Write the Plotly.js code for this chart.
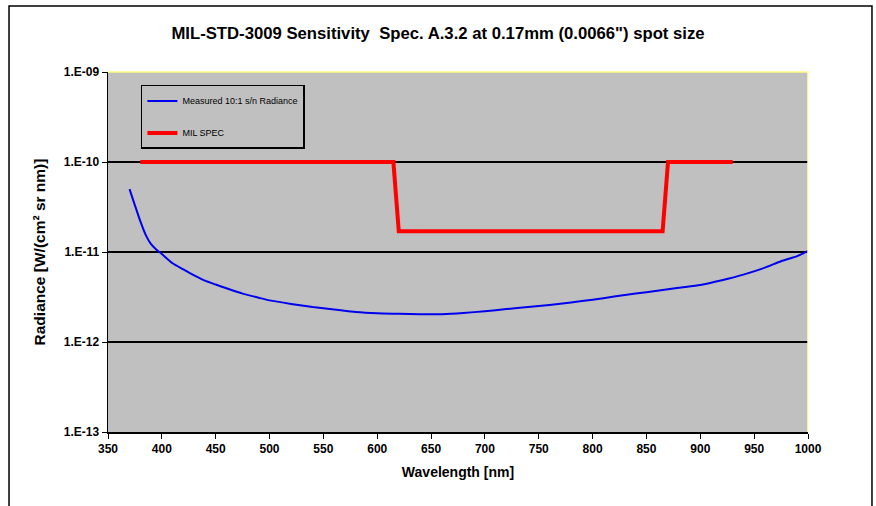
<!DOCTYPE html>
<html>
<head>
<meta charset="utf-8">
<script src="https://cdn.plot.ly/plotly-3.0.1.min.js"></script>
<style>html,body{margin:0;padding:0;background:#fff;}#chart{width:876px;height:506px;}</style>
</head>
<body>
<div id="chart"></div>
<script>
// Measured 10:1 s/n radiance
const measWl = [370,375,380,385,390,395,400,410,420,430,440,450,460,475,490,500,520,540,560,580,600,620,640,660,680,700,720,740,760,780,800,820,840,860,880,900,920,940,960,975,990,1000];
const measRad = [5.0e-11,3.3e-11,2.2e-11,1.55e-11,1.22e-11,1.06e-11,9.5e-12,7.5e-12,6.4e-12,5.5e-12,4.8e-12,4.35e-12,3.95e-12,3.45e-12,3.1e-12,2.9e-12,2.65e-12,2.45e-12,2.3e-12,2.15e-12,2.08e-12,2.06e-12,2.04e-12,2.04e-12,2.1e-12,2.2e-12,2.32e-12,2.45e-12,2.58e-12,2.75e-12,2.95e-12,3.2e-12,3.45e-12,3.7e-12,4.0e-12,4.3e-12,4.85e-12,5.6e-12,6.7e-12,7.9e-12,9.0e-12,1.03e-11];
// MIL SPEC limit
const specWl = [380,615,620,865,870,930];
const specRad = [1e-10,1e-10,1.7e-11,1.7e-11,1e-10,1e-10];
// Axis ticks
const xTicks = [350,400,450,500,550,600,650,700,750,800,850,900,950,1000];
const yTickVals = [1e-13,1e-12,1e-11,1e-10,1e-9];
const yTickText = ["1.E-13","1.E-12","1.E-11","1.E-10","1.E-09"];

const FONT = "Liberation Sans Narrow, Liberation Sans, Arial, sans-serif";

const traces = [
  {x: measWl, y: measRad, type:'scatter', mode:'lines', name:'Measured 10:1 s/n Radiance',
   line:{color:'#0000ee', width:2, shape:'spline', smoothing:0.6}, legendgroup:'a'},
  {x: specWl, y: specRad, type:'scatter', mode:'lines', name:'MIL SPEC',
   line:{color:'#ff0000', width:4}, legendgroup:'b'}
];

const layout = {
  width:876, height:506,
  margin:{l:108, r:68, t:72, b:74},
  paper_bgcolor:'#ffffff',
  plot_bgcolor:'#c0c0c0',
  showlegend:true,
  title:{text:'MIL-STD-3009 Sensitivity  Spec. A.3.2 at 0.17mm (0.0066") spot size',
         font:{family:FONT, size:16.7, color:'#000', weight:'bold'},
         x:0.5, xanchor:'center', y:0.935, yanchor:'middle'},
  xaxis:{range:[350,1000], tickvals:xTicks, ticktext:xTicks.map(String),
         showgrid:false, zeroline:false, showline:true, linecolor:'#000', linewidth:1.5,
         ticks:'outside', ticklen:5, tickcolor:'#000', tickwidth:1,
         tickfont:{family:FONT, size:12, color:'#000', weight:'bold'},
         title:{text:'Wavelength [nm]', font:{family:FONT, size:14, color:'#000', weight:'bold'}, standoff:12},
         fixedrange:true},
  yaxis:{type:'log', range:[-13,-9], tickvals:yTickVals, ticktext:yTickText,
         showgrid:true, gridcolor:'#000', gridwidth:1.2, zeroline:false,
         showline:true, linecolor:'#000', linewidth:1.5,
         ticks:'outside', ticklen:5, tickcolor:'#000', tickwidth:1,
         tickfont:{family:FONT, size:12, color:'#000', weight:'bold'},
         title:{text:'Radiance [W/(cm² sr nm)]', font:{family:FONT, size:15.5, color:'#000', weight:'bold'}, standoff:14},
         fixedrange:true},
  legend:{x:0.047, y:0.964, xanchor:'left', yanchor:'top',
          bgcolor:'#c0c0c0', bordercolor:'#000', borderwidth:1.5,
          font:{family:'Liberation Sans, Arial, sans-serif', size:9, color:'#000'},
          traceorder:'grouped', tracegroupgap:13, itemwidth:30},
  shapes:[
    {type:'line', xref:'paper', yref:'paper', x0:0, x1:1, y0:1, y1:1, line:{color:'#ffff80', width:1.5}},
    {type:'line', xref:'paper', yref:'paper', x0:1, x1:1, y0:0, y1:1, line:{color:'#ffffc0', width:1.5}},
    {type:'rect', xref:'paper', yref:'paper', x0:-0.1414, x1:1.0914, y0:-0.25, y1:1.1833, line:{color:'#000', width:1.5}, fillcolor:'rgba(0,0,0,0)', layer:'below'}
  ]
};

Plotly.newPlot('chart', traces, layout, {displayModeBar:false, staticPlot:true});
</script>
</body>
</html>
